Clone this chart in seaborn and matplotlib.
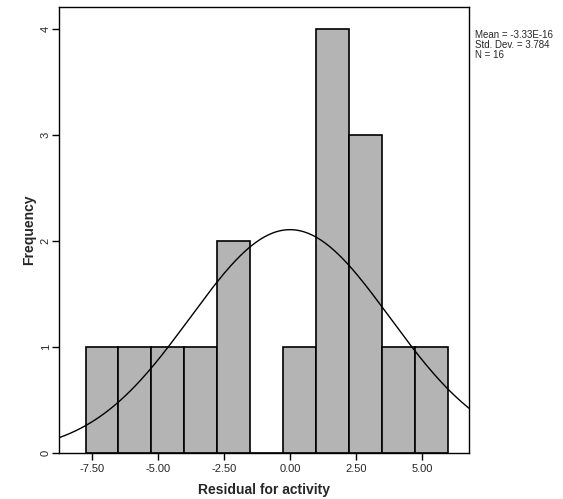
import numpy as np
import matplotlib
matplotlib.use("Agg")
import matplotlib.pyplot as plt
import seaborn as sns

# histogram of residuals (SPSS style)
bin_edges = [-7.75, -6.5, -5.25, -4.0, -2.75, -1.5, -0.25, 1.0, 2.25, 3.5, 4.75, 6.0]
counts = [1, 1, 1, 1, 2, 0, 1, 4, 3, 1, 1]
mean = -3.33e-16
std = 3.784
n = 16
xticks = [-7.5, -5.0, -2.5, 0.0, 2.5, 5.0]
yticks = [0, 1, 2, 3, 4]

sns.set_theme(style="white")
plt.rcParams['font.family'] = ['Liberation Sans', 'DejaVu Sans']

fig = plt.figure(figsize=(5.63, 4.99), dpi=100)
ax = fig.add_axes([0.105, 0.092, 0.728, 0.894])

centers = [(bin_edges[i] + bin_edges[i + 1]) / 2 for i in range(len(counts))]
sns.histplot(x=centers, weights=counts, bins=bin_edges, ax=ax,
             color="#b4b4b4", edgecolor="black", linewidth=1.2, alpha=1)

# fitted normal curve, scaled to counts
bw = bin_edges[1] - bin_edges[0]
xs = np.linspace(-8.75, 6.78, 300)
ys = n * bw / (std * np.sqrt(2 * np.pi)) * np.exp(-0.5 * ((xs - mean) / std) ** 2)
sns.lineplot(x=xs, y=ys, ax=ax, color="black", linewidth=1)

ax.set_xlim(-8.75, 6.78)
ax.set_ylim(0, 4.21)
ax.set_xticks(xticks)
ax.set_xticklabels([f"{t:.2f}" for t in xticks], fontsize=8)
ax.set_yticks(yticks)
ax.set_yticklabels([str(t) for t in yticks], fontsize=8, rotation=90, va="center")
ax.tick_params(axis="x", length=5, width=1, color="black", direction="out",
               bottom=True, pad=3)
ax.tick_params(axis="y", length=5, width=1, color="black", direction="out",
               left=True, pad=1)
for s in ax.spines.values():
    s.set_color("black")
    s.set_linewidth(1)

ax.set_xlabel("Residual for activity", fontsize=10, fontweight="bold", labelpad=6)
ax.set_ylabel("Frequency", fontsize=10, fontweight="bold", labelpad=3)

fig.text(0.843, 0.94, f"Mean = -3.33E-16\nStd. Dev. = {std:.3f}\nN = {n}",
         fontsize=7, va="top", ha="left", linespacing=1.0)

fig.savefig("out.png", dpi=100)
